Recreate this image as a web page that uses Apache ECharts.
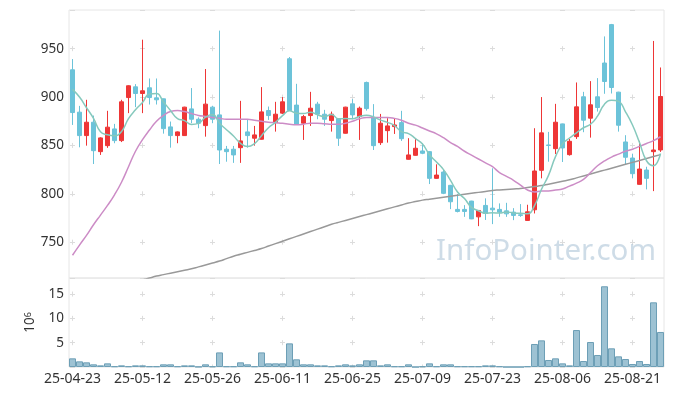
<!DOCTYPE html>
<html><head><meta charset="utf-8">
<script src="https://cdn.jsdelivr.net/npm/echarts@6/dist/echarts.min.js"></script>
<style>html,body{margin:0;padding:0;background:#fff}#c{width:673px;height:396px}</style>
</head><body><div id="c"></div>
<script>
const dates = ["25-04-23","25-04-24","25-04-25","25-04-28","25-04-29","25-04-30","25-05-02","25-05-07","25-05-08","25-05-09",
"25-05-12","25-05-13","25-05-14","25-05-15","25-05-16","25-05-19","25-05-20","25-05-21","25-05-22","25-05-23",
"25-05-26","25-05-27","25-05-28","25-05-29","25-05-30","25-06-02","25-06-04","25-06-05","25-06-09","25-06-10",
"25-06-11","25-06-12","25-06-13","25-06-16","25-06-17","25-06-18","25-06-19","25-06-20","25-06-23","25-06-24",
"25-06-25","25-06-26","25-06-27","25-06-30","25-07-01","25-07-02","25-07-03","25-07-04","25-07-07","25-07-08",
"25-07-09","25-07-10","25-07-11","25-07-14","25-07-15","25-07-16","25-07-17","25-07-18","25-07-21","25-07-22",
"25-07-23","25-07-24","25-07-25","25-07-28","25-07-29","25-07-30","25-07-31","25-08-01","25-08-04","25-08-05",
"25-08-06","25-08-07","25-08-08","25-08-11","25-08-12","25-08-13","25-08-14","25-08-18","25-08-19","25-08-20",
"25-08-21","25-08-22","25-08-25","25-08-26","25-08-27"];
const opens = [928.2,884.4,860.2,874,843.6,849.8,867.1,855,899.5,910.6,
903.7,909.6,899.2,898.2,869.2,860.2,860.2,887.8,877.1,870.5,
889.6,881.6,846.1,846.1,847.7,864,857.5,856.4,886.1,873.6,
883.4,939.6,891.7,873,880.9,892.7,882.3,875.7,877.8,862.6,
893,879.8,915.1,878.5,852.9,865.3,869.5,873.6,835.7,839.8,
844.3,843.6,816,822.5,808.8,783.9,783.9,792.5,776.2,788,
785.2,783.9,782.4,781.1,778.3,772.5,783.5,824.3,850.5,846.7,
872.3,840.5,859.1,900.3,878.2,900.3,935.2,974.9,905.1,853.6,
837,809.8,824.6,843.6,845.3];
const closes = [884,860.2,874,844.6,857.8,868.9,855,895.1,911.7,903.7,
906.5,899.5,897.2,867.4,860.2,864,889.6,877.1,873,892.7,
877.1,845.3,843.6,840.2,854.7,860.2,860.9,884.7,880.9,882.3,
895.1,886.1,872,879.8,888.5,882.3,877.1,882.3,857.5,889.6,
881.6,888.5,888.1,849.8,873,870.2,871.2,857,840.2,847.1,
841.9,816,819.4,800.5,791.8,781.8,781.8,774.1,782.8,779.7,
783.5,781.1,779.3,777.7,777.7,781.4,823.6,863,850,874,
847.4,854.3,889.9,876.1,892,889.2,916.1,909.9,870.9,837.8,
820.8,825.6,816,845.3,900.6];
const highs = [939.3,890.9,897.2,880.9,858.5,885.8,872.3,897.2,912.2,913.4,
959.3,919.2,919.2,898.5,874.7,864.5,890,909.3,879,929,
891,968.7,849.5,849.5,896.1,876.4,870.2,910.3,890.2,895.1,
900,941.4,913.7,881.6,905.4,895.1,886.8,885,878.3,890,
897.9,890.2,916,892.7,882.6,878.2,878.2,885.8,857.5,856.7,
852.3,844,830.5,825.3,809.2,799.7,788.3,792.8,783.2,795.3,
826.4,790.1,790.7,785.2,789.4,788.7,867.8,900,864,893,
872.6,856.7,915.1,905.4,916.5,919.6,962.7,975.6,905.5,860.6,
841.5,854.7,828,958,930.6];
const lows = [871.2,848.1,849.8,830.8,840.2,847.5,852.3,853.5,883.4,889.6,
883.4,892.3,892.3,862.2,847.7,852.3,859.8,873,867.8,859.1,
873,830.8,833.2,832,832,847.7,849.8,856,876.4,864.3,
882.5,885.8,871.7,855.7,870.2,877.1,870.2,864.3,849.5,862.3,
877.1,855.7,886,845.3,850.5,852.9,861.9,854.7,835.4,839.5,
841,810.1,815.7,799.7,784.2,780.8,776.2,773.8,766.6,773,
768.7,776.2,776.2,772.8,776.2,772.2,779.7,816,833.2,841.2,
832.9,839.5,856.7,863.7,858.1,885,903.4,903.7,864.3,830.8,
816,809.5,804.6,802.8,843.3];
const ma5 = [908,900,889,878,864.1,861.1,860.1,864.3,877.7,886.9,
894.4,903.3,903.7,894.9,886.2,877.7,875.7,871.7,872.8,879.3,
881.9,873,866.3,859.8,852.2,848.8,851.9,860.1,868.3,873.8,
880.8,885.8,883.3,883.1,884.3,881.7,879.9,882,877.5,877.8,
877.6,879.9,881.1,879.5,876.2,873.9,870.5,864.2,862.3,857.1,
851.5,840.4,832.9,825,813.9,801.9,795.1,786,782.5,780,
780.4,780.2,781.3,780.3,779.9,779.4,787.9,804.7,819.1,838.4,
851.6,857.7,863.1,868.3,871.9,880.3,892.7,896.7,895.6,884.8,
871.1,853,834.2,829.1,841.7];
const ma20 = [736.5,747,757,768,778,788,799,812,828,844,
856,866,875,881,885,886,885,883,881,880,
879,878,877,877,877,877,876,875,874,873.5,
873,872,871.5,872,873,873,872.5,872,872,873,
875,877.5,879,879,879,879,878,876,873,871,
868,865,862,858,853,849,844,840,836,832,
828,822,818,814,809,804,802,803,803,804,
805,808,811,815,822,829,834,838,841,844,
846,849,852,855,859];
const ma60 = [null,null,null,null,null,null,null,null,null,null,
711,713,715,716.5,718,719.5,721,722.5,724.5,726.5,
728.5,730.5,733,735.5,737.5,739.5,741.5,743.5,746,748.5,
751,753.5,756,758.5,761,763.5,766,768.5,770.5,772.5,
774.5,776.5,778.5,780.5,782.5,784.5,786.5,788.5,790.5,792,
793.5,794.5,795.5,796.5,797.5,798.5,799.5,800.5,801.5,802.5,
803.5,804,804.5,805,805.5,806.5,807.5,808.5,810,811.5,
813,814.5,816.5,818.5,820.5,822.5,824.5,826.5,828.5,830.5,
832.5,834.5,836.5,838.5,840.5];
const volumes = [1.78,1.16,0.96,0.55,0.34,0.75,0.14,0.34,0.14,0.34,
0.34,0.14,0.14,0.55,0.55,0.14,0.34,0.34,0.05,0.55,
0.14,3.0,0.14,0.14,0.96,0.55,0.14,3.0,0.75,0.75,
0.75,4.86,1.58,0.55,0.55,0.34,0.34,0.14,0.34,0.55,
0.34,0.55,1.37,1.37,0.34,0.55,0.14,0.14,0.55,0,
0.14,0.75,0.14,0.55,0.55,0.14,0.14,0.14,0.14,0.34,
0.34,0.14,0,0,0,0.14,4.73,5.48,1.44,1.78,
0.75,0.34,7.6,1.23,5.14,2.47,16.6,3.84,2.19,1.64,
0.62,1.23,0.62,13.3,7.2];

const FONT = 'Noto Sans';
const candleData = opens.map((o, i) => [o, closes[i], lows[i], highs[i]]);
const gridLine = '#dcdcdc';
const chart = echarts.init(document.getElementById('c'), null, {renderer: 'canvas'});
chart.setOption({
  animation: false,
  textStyle: {fontFamily: FONT},
  grid: [
    {left: 69, top: 10, width: 595, height: 268, show: true, borderColor: '#e6e6e6', borderWidth: 1, backgroundColor: 'transparent'},
    {left: 69, top: 278, width: 595, height: 89, show: true, borderColor: '#e6e6e6', borderWidth: 1, backgroundColor: 'transparent'}
  ],
  xAxis: [
    {type: 'category', gridIndex: 0, data: dates, boundaryGap: true,
     axisLine: {show: false}, axisTick: {show: false}, axisLabel: {show: false},
     splitLine: {show: true, interval: 9, alignWithLabel: true,
       lineStyle: {color: gridLine, width: 1, type: [5, 43.375], dashOffset: 12.175}}},
    {type: 'category', gridIndex: 1, data: dates, boundaryGap: true,
     axisLine: {show: false}, axisTick: {show: false},
     axisLabel: {interval: 9, color: '#333', fontSize: 14, margin: 5, fontFamily: FONT},
     splitLine: {show: true, interval: 9, alignWithLabel: true,
       lineStyle: {color: gridLine, width: 1, type: [5, 19.315], dashOffset: 10.765}}}
  ],
  yAxis: [
    {type: 'value', gridIndex: 0, min: 713, max: 990, splitNumber: 5, scale: true,
     axisLine: {show: false}, axisTick: {show: false},
     axisLabel: {color: '#333', fontSize: 13.5, margin: 5, showMinLabel: false, showMaxLabel: false, fontFamily: FONT},
     splitLine: {show: true, lineStyle: {color: gridLine, width: 1, type: [5, 65], dashOffset: 69}}},
    {type: 'value', gridIndex: 1, min: 0, max: 18.3, splitNumber: 4,
     axisLine: {show: false}, axisTick: {show: false},
     axisLabel: {color: '#333', fontSize: 13.5, margin: 5, showMinLabel: false, showMaxLabel: false, fontFamily: FONT},
     splitLine: {show: true, lineStyle: {color: gridLine, width: 1, type: [5, 65], dashOffset: 69}},
     name: '{b|10}{s|6}', nameLocation: 'middle', nameRotate: 90, nameGap: 30,
     nameTextStyle: {color: '#333', rich: {b: {fontSize: 13.5, color: '#333', fontFamily: FONT}, s: {fontSize: 9, color: '#333', verticalAlign: 'top', fontFamily: FONT}}}}
  ],
  graphic: [
    {type: 'text', left: 436, top: 237, z: 100, silent: true,
     style: {text: 'InfoPointer.com', font: '29.5px "Noto Sans"', fill: 'rgba(165,192,212,0.55)'}}
  ],
  series: [
    {type: 'candlestick', xAxisIndex: 0, yAxisIndex: 0, data: candleData, barWidth: 5, clip: true,
     itemStyle: {color: '#ee3636', color0: '#6cc3d9', borderColor: '#ee3636', borderColor0: '#6cc3d9', borderWidth: 1}},
    {type: 'line', xAxisIndex: 0, yAxisIndex: 0, data: ma60, symbol: 'none', smooth: true, clip: true,
     lineStyle: {color: '#999999', width: 1.5}, connectNulls: false},
    {type: 'line', xAxisIndex: 0, yAxisIndex: 0, data: ma20, symbol: 'none', smooth: true, clip: true,
     lineStyle: {color: '#cc8cc6', width: 1.5}},
    {type: 'line', xAxisIndex: 0, yAxisIndex: 0, data: ma5, symbol: 'none', smooth: true, clip: true,
     lineStyle: {color: '#86c9bd', width: 1.5}},
    {type: 'bar', xAxisIndex: 1, yAxisIndex: 1, data: volumes, barCategoryGap: '0%',
     itemStyle: {color: '#9dc2d3', borderColor: '#6d9fb6', borderWidth: 1}}
  ]
});
</script></body></html>
